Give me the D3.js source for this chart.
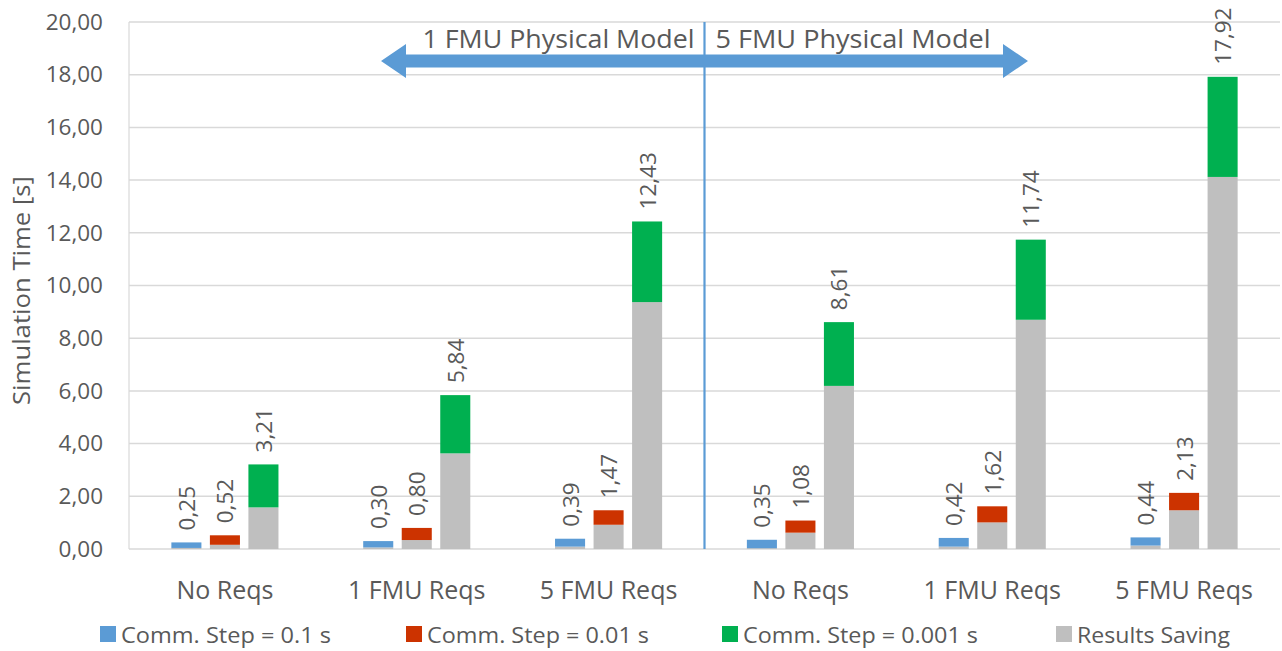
<!DOCTYPE html>
<html>
<head>
<meta charset="utf-8">
<script src="https://cdn.jsdelivr.net/npm/d3@7"></script>
<style>
  body { margin: 0; background: #fff; }
  svg text { font-family: "Open Sans", "DejaVu Sans", sans-serif; fill: #595959; }
</style>
</head>
<body>
<svg id="chart" width="1282" height="651"></svg>
<script>
// categories (x axis groups)
const groups = ['No Reqs', '1 FMU Reqs', '5 FMU Reqs', 'No Reqs', '1 FMU Reqs', '5 FMU Reqs'];
const steps = ['Comm. Step = 0.1 s', 'Comm. Step = 0.01 s', 'Comm. Step = 0.001 s'];
const savingLabel = 'Results Saving';
// total simulation time per group, one value per comm. step
const totals = [
  [0.25, 0.52, 3.21],
  [0.30, 0.80, 5.84],
  [0.39, 1.47, 12.43],
  [0.35, 1.08, 8.61],
  [0.42, 1.62, 11.74],
  [0.44, 2.13, 17.92]
];
// part of the total spent on results saving (grey)
const saving = [
  [0.04, 0.16, 1.58],
  [0.06, 0.34, 3.63],
  [0.09, 0.92, 9.37],
  [0.03, 0.62, 6.19],
  [0.09, 1.01, 8.70],
  [0.13, 1.47, 14.12]
];
const yTicks = [0, 2, 4, 6, 8, 10, 12, 14, 16, 18, 20];
const modelLabels = ['1 FMU Physical Model', '5 FMU Physical Model'];

const stepColors = ['#5B9BD5', '#CC3300', '#00B050'];
const greyColor = '#BFBFBF';

const svg = d3.select('#chart');
const plotLeft = 129, plotRight = 1280, plotTop = 22, plotBottom = 549;

const y = d3.scaleLinear().domain([0, 20]).range([plotBottom, plotTop]);
const x = d3.scaleBand().domain(d3.range(groups.length)).range([plotLeft, plotRight]).padding(0);
const xs = d3.scaleBand().domain(d3.range(steps.length)).range([0, x.bandwidth()])
  .paddingInner(0.22).paddingOuter(1.1);

const fmt = v => v.toFixed(2).replace('.', ',');

// gridlines
svg.append('g')
  .selectAll('line')
  .data(yTicks)
  .join('line')
  .attr('x1', plotLeft)
  .attr('x2', plotRight)
  .attr('y1', d => y(d))
  .attr('y2', d => y(d))
  .attr('stroke', '#D9D9D9')
  .attr('stroke-width', 1.5);

svg.append('line')
  .attr('x1', plotLeft).attr('x2', plotLeft)
  .attr('y1', plotTop).attr('y2', plotBottom)
  .attr('stroke', '#D9D9D9').attr('stroke-width', 1.2);

// y axis labels
const yAxis = svg.append('g')
  .attr('transform', `translate(${plotLeft - 26},0)`)
  .call(d3.axisLeft(y).tickValues(yTicks).tickFormat(fmt).tickSize(0));
yAxis.select('.domain').remove();
yAxis.selectAll('text')
  .attr('x', 0)
  .attr('font-size', 22.5)
  .attr('font-family', '"Open Sans", sans-serif')
  .style('fill', '#595959');

svg.append('text')
  .attr('transform', `translate(21,${(plotTop + plotBottom) / 2 + 5}) rotate(-90)`)
  .attr('text-anchor', 'middle')
  .attr('dominant-baseline', 'central')
  .attr('font-size', 23.5)
  .attr('textLength', 229)
  .attr('lengthAdjust', 'spacingAndGlyphs')
  .text('Simulation Time [s]');

// x axis labels
svg.append('g')
  .selectAll('text')
  .data(groups)
  .join('text')
  .attr('x', (d, i) => x(i) + x.bandwidth() / 2)
  .attr('y', 599)
  .attr('text-anchor', 'middle')
  .attr('font-size', 25)
  .text(d => d);

// bars
const bars = [];
totals.forEach((row, g) => {
  row.forEach((t, s) => {
    bars.push({ g, s, total: t, saving: saving[g][s] });
  });
});

const barG = svg.append('g');
// grey results saving part
barG.selectAll('rect.grey')
  .data(bars)
  .join('rect')
  .attr('class', 'grey')
  .attr('x', d => x(d.g) + xs(d.s))
  .attr('width', xs.bandwidth())
  .attr('y', d => y(d.saving))
  .attr('height', d => y(0) - y(d.saving))
  .attr('fill', greyColor);

// coloured comm. step part on top
barG.selectAll('rect.step')
  .data(bars)
  .join('rect')
  .attr('class', 'step')
  .attr('x', d => x(d.g) + xs(d.s))
  .attr('width', xs.bandwidth())
  .attr('y', d => y(d.total))
  .attr('height', d => y(d.saving) - y(d.total))
  .attr('fill', d => stepColors[d.s]);

// total labels (rotated)
barG.selectAll('text')
  .data(bars)
  .join('text')
  .attr('transform', d => {
    const cx = x(d.g) + xs(d.s) + xs.bandwidth() / 2;
    return `translate(${cx},${y(d.total) - 12}) rotate(-90)`;
  })
  .attr('dominant-baseline', 'central')
  .attr('font-size', 22.5)
  .text(d => fmt(d.total));

// divider between physical models
const divX = x(3);
svg.append('line')
  .attr('x1', divX).attr('x2', divX)
  .attr('y1', plotTop).attr('y2', plotBottom)
  .attr('stroke', '#5B9BD5')
  .attr('stroke-width', 2.2);

// double headed arrow
const aL = 381, aR = 1028, aY = 61, head = 25, shaft = 6.5, hh = 17;
svg.append('path')
  .attr('d', `M${aL},${aY} L${aL + head},${aY - hh} L${aL + head},${aY - shaft}
    L${aR - head},${aY - shaft} L${aR - head},${aY - hh} L${aR},${aY}
    L${aR - head},${aY + hh} L${aR - head},${aY + shaft} L${aL + head},${aY + shaft}
    L${aL + head},${aY + hh} Z`)
  .attr('fill', '#5B9BD5');

svg.append('text')
  .attr('x', divX - 10)
  .attr('y', 48)
  .attr('text-anchor', 'end')
  .attr('font-size', 26)
  .attr('textLength', 272)
  .attr('lengthAdjust', 'spacingAndGlyphs')
  .text(modelLabels[0]);
svg.append('text')
  .attr('x', divX + 11)
  .attr('y', 48)
  .attr('font-size', 26)
  .attr('textLength', 275)
  .attr('lengthAdjust', 'spacingAndGlyphs')
  .text(modelLabels[1]);

// legend
const legendItems = steps.map((s, i) => ({ name: s, color: stepColors[i] }))
  .concat([{ name: savingLabel, color: greyColor }]);
const legendX = [100, 406, 722, 1056];
const legendW = [210, 222, 235, 153];
const lg = svg.append('g')
  .selectAll('g')
  .data(legendItems)
  .join('g')
  .attr('transform', (d, i) => `translate(${legendX[i]},634)`);
lg.append('rect')
  .attr('x', 0).attr('y', -8)
  .attr('width', 16).attr('height', 16)
  .attr('fill', d => d.color);
lg.append('text')
  .attr('x', 21)
  .attr('y', 0)
  .attr('dominant-baseline', 'central')
  .attr('font-size', 22)
  .attr('textLength', (d, i) => legendW[i])
  .attr('lengthAdjust', 'spacingAndGlyphs')
  .text(d => d.name);
</script>
</body>
</html>
